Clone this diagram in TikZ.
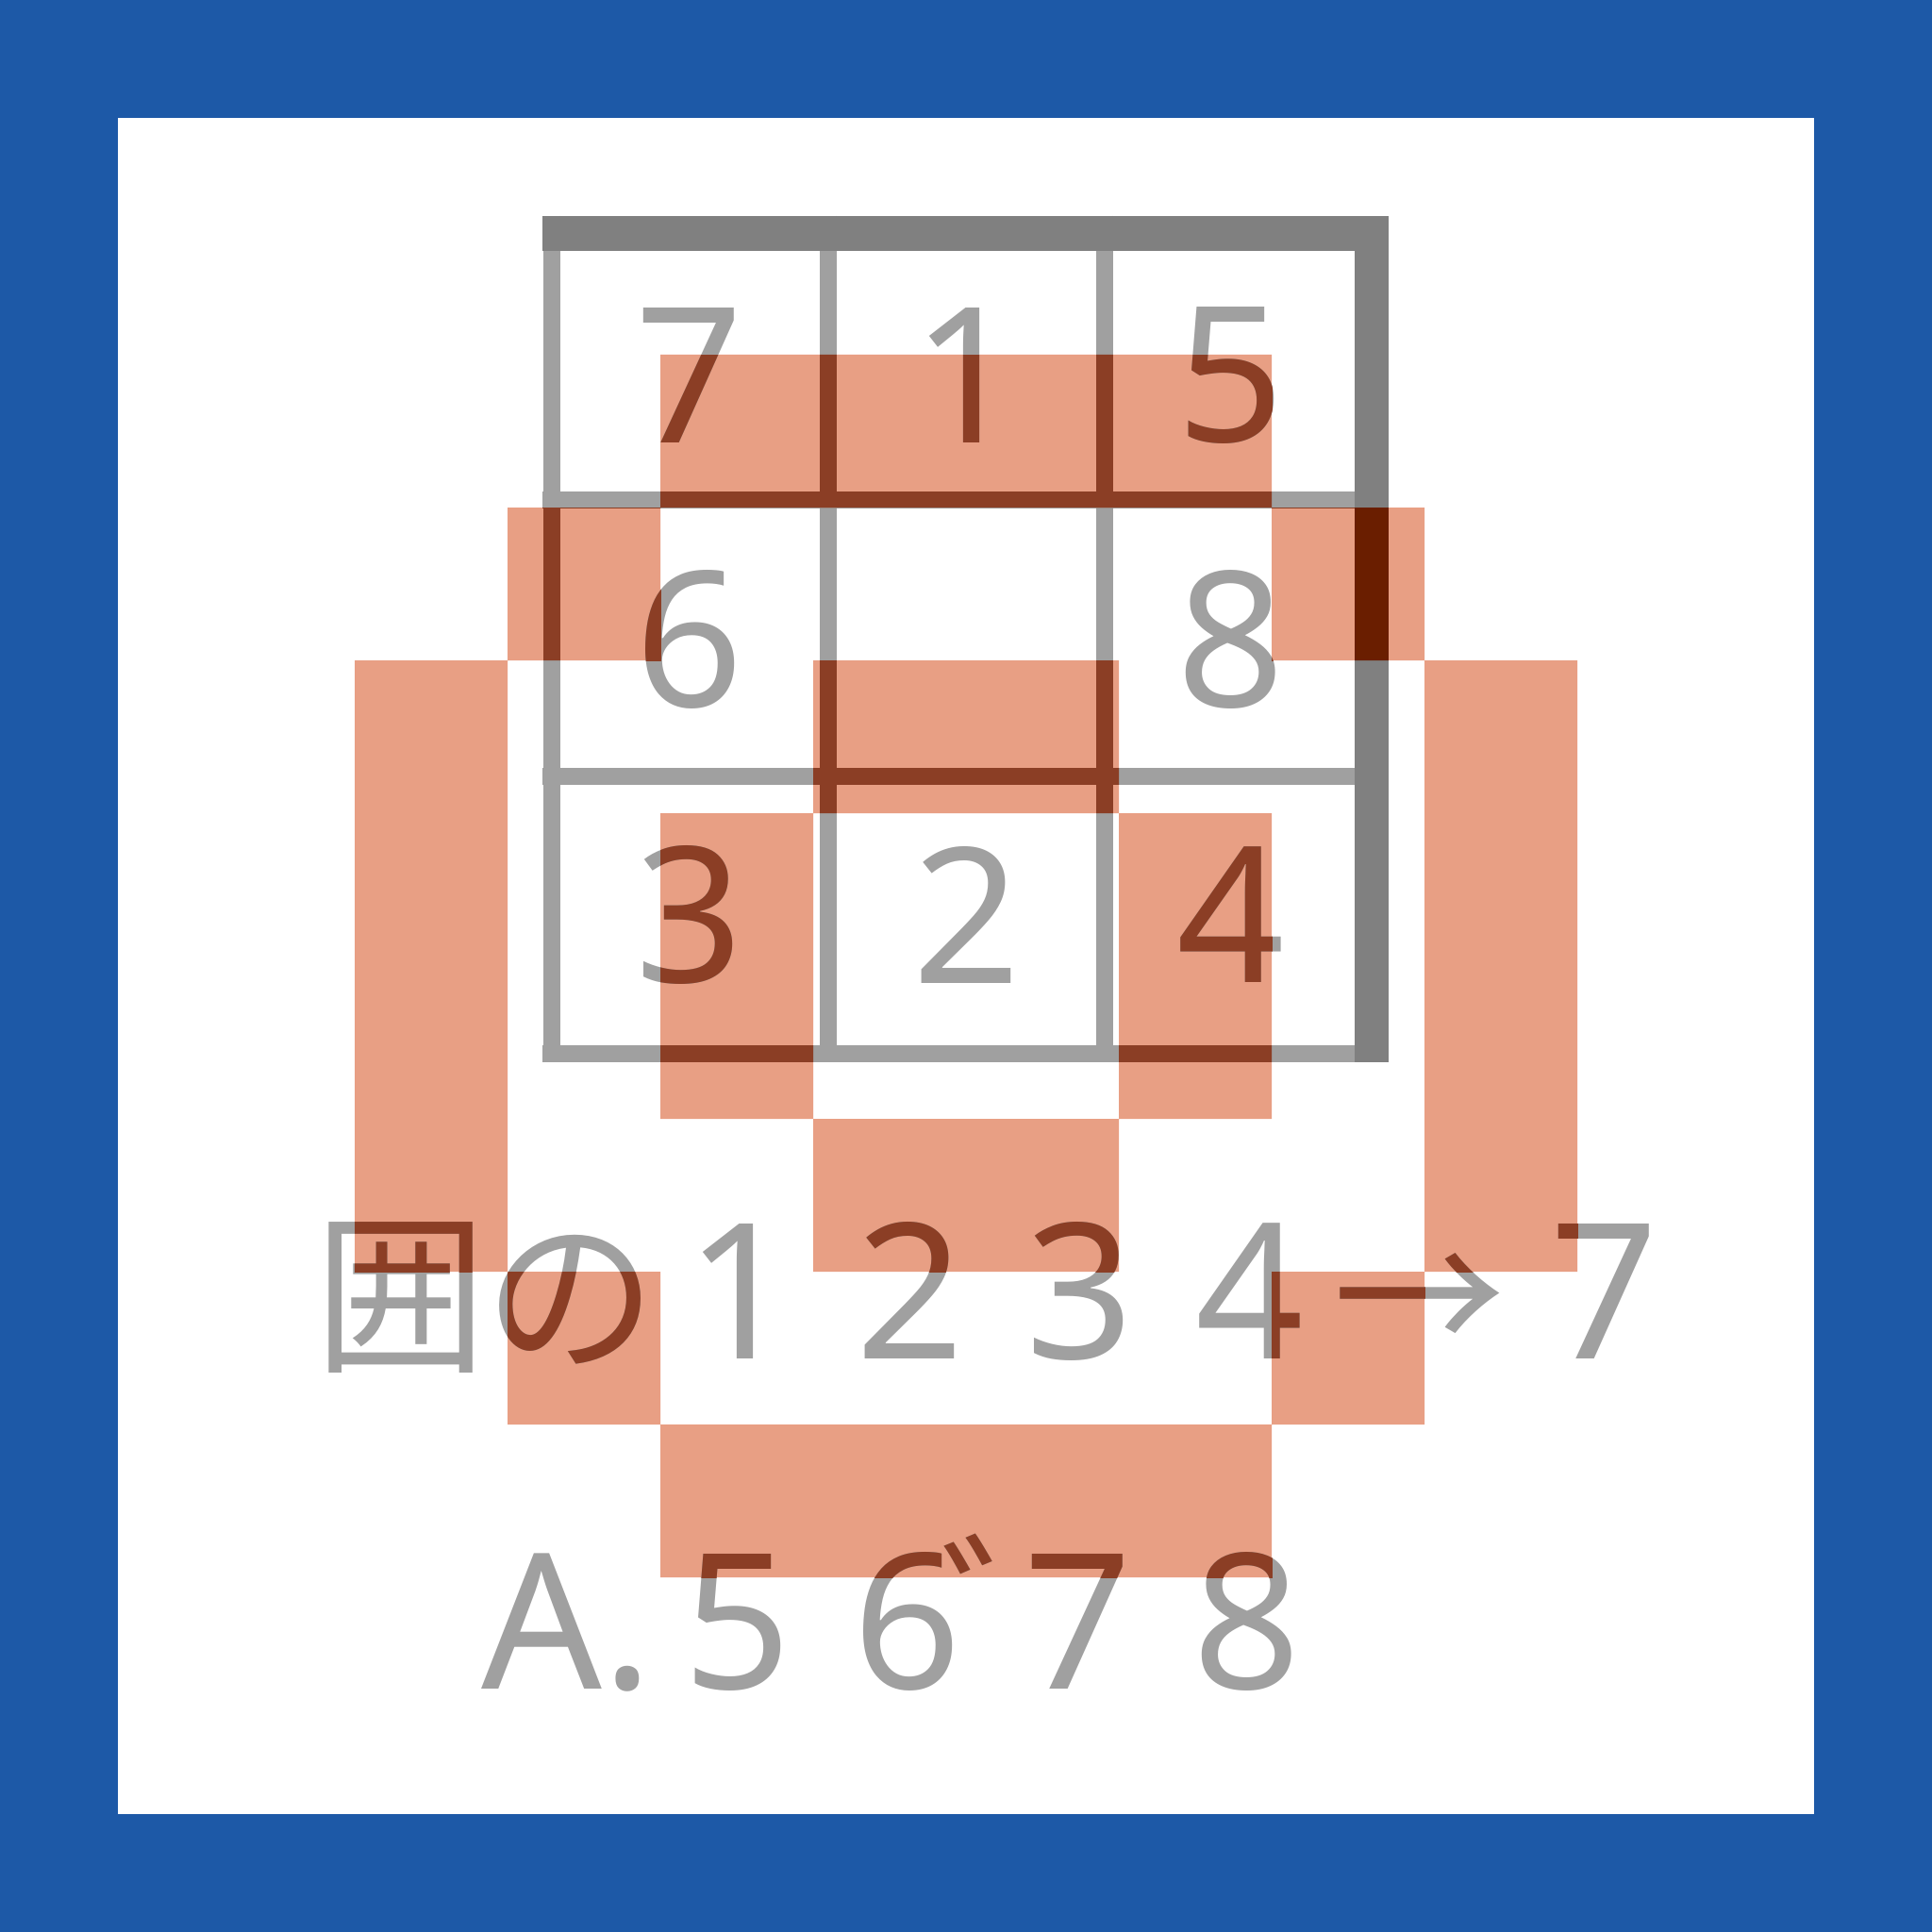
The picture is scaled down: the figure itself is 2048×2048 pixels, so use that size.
\documentclass[tikz,border=0pt]{standalone}
\usepackage{fontspec}
\newfontfamily\jpfont{Noto Sans CJK JP}
\newfontfamily\numfont{Noto Sans}
\definecolor{frameblue}{RGB}{29,89,167}
\definecolor{blockorange}{RGB}{232,159,132}
\definecolor{linegray}{RGB}{160,160,160}
\definecolor{bargray}{RGB}{128,128,128}
\definecolor{linedark}{RGB}{139,62,37}
\definecolor{bardark}{RGB}{106,30,0}
% one full-width cell, and the CJK glyphs
\newcommand\fw[1]{\makebox[18mm]{#1}}
\newcommand\jp[1]{{\jpfont\fontsize{52pt}{60pt}\selectfont #1}}
\def\blocklist{2/0,3/0,4/0,5/0, 1/1,6/1,
    0/2,3/2,4/2,7/2, 0/3,2/3,5/3,7/3, 0/4,2/4,5/4,7/4,
    0/5,3/5,4/5,7/5, 1/6,6/6, 2/7,3/7,4/7,5/7}
% grid, numbers and text; #1 = line/text colour, #2 = bar colour
\newcommand\puzzle[2]{%
    \foreach \x in {584.5,877.5,1171}
        \draw[gridline, draw=#1] (\x,229) -- (\x,1126);
    \foreach \y in {529.5,823,1117}
        \draw[gridline, draw=#1] (575,\y) -- (1472,\y);
    \fill[#2] (575,229) rectangle (1472,266);
    \fill[#2] (1436,229) rectangle (1472,1126);
    \node[digit, text=#1] (n7) at (731,398) {7};
    \node[digit, text=#1] (n1) at (1025,398) {1};
    \node[digit, text=#1] (n5) at (1305,398) {5};
    \node[digit, text=#1] (n6) at (731,678) {6};
    \node[digit, text=#1] (n8) at (1305,678) {8};
    \node[digit, text=#1] (n3) at (731,970) {3};
    \node[digit, text=#1] (n2) at (1025,970) {2};
    \node[digit, text=#1] (n4) at (1305,970) {4};
    \node[caption, text=#1, anchor=base west] (riddle) at (334,1440)
        {\fw{\jp{囲}}\fw{\jp{の}}\fw{1}\fw{2}\fw{3}\fw{4}\fw{\jp{→}}\hspace{1.6mm}\fw{7}};
    \node[caption, text=#1, anchor=base east] (answer) at (1413,1790)
        {A.\fw{5}\fw{6}\makebox[0pt][l]{\hspace{-5.4mm}\raisebox{1.05mm}{\jp{゛}}}\fw{7}\fw{8}};
}
\begin{document}
\begin{tikzpicture}[
    x=0.1mm, y=-0.1mm,
    block/.style={fill=blockorange},
    gridline/.style={line width=1.8mm},
    digit/.style={
        font=\numfont\fontsize{57pt}{60pt}\selectfont,
        inner sep=0pt
    },
    caption/.style={
        font=\numfont\fontsize{57pt}{60pt}\selectfont,
        inner sep=0pt
    }
]

% frame
\fill[frameblue] (0,0) rectangle (2048,2048);
\fill[white] (125,125) rectangle (1923,1923);

% pixel blocks
\fill[block] \foreach \c/\r in \blocklist
    {(376+162*\c, 376+162*\r) rectangle ++(162,162)};

% gray layer, then the same again, darker, where it crosses the blocks
\puzzle{linegray}{bargray}
\begin{scope}
    \clip \foreach \c/\r in \blocklist
        {(376+162*\c, 376+162*\r) rectangle ++(162,162)};
    \puzzle{linedark}{bardark}
\end{scope}
\end{tikzpicture}
\end{document}
